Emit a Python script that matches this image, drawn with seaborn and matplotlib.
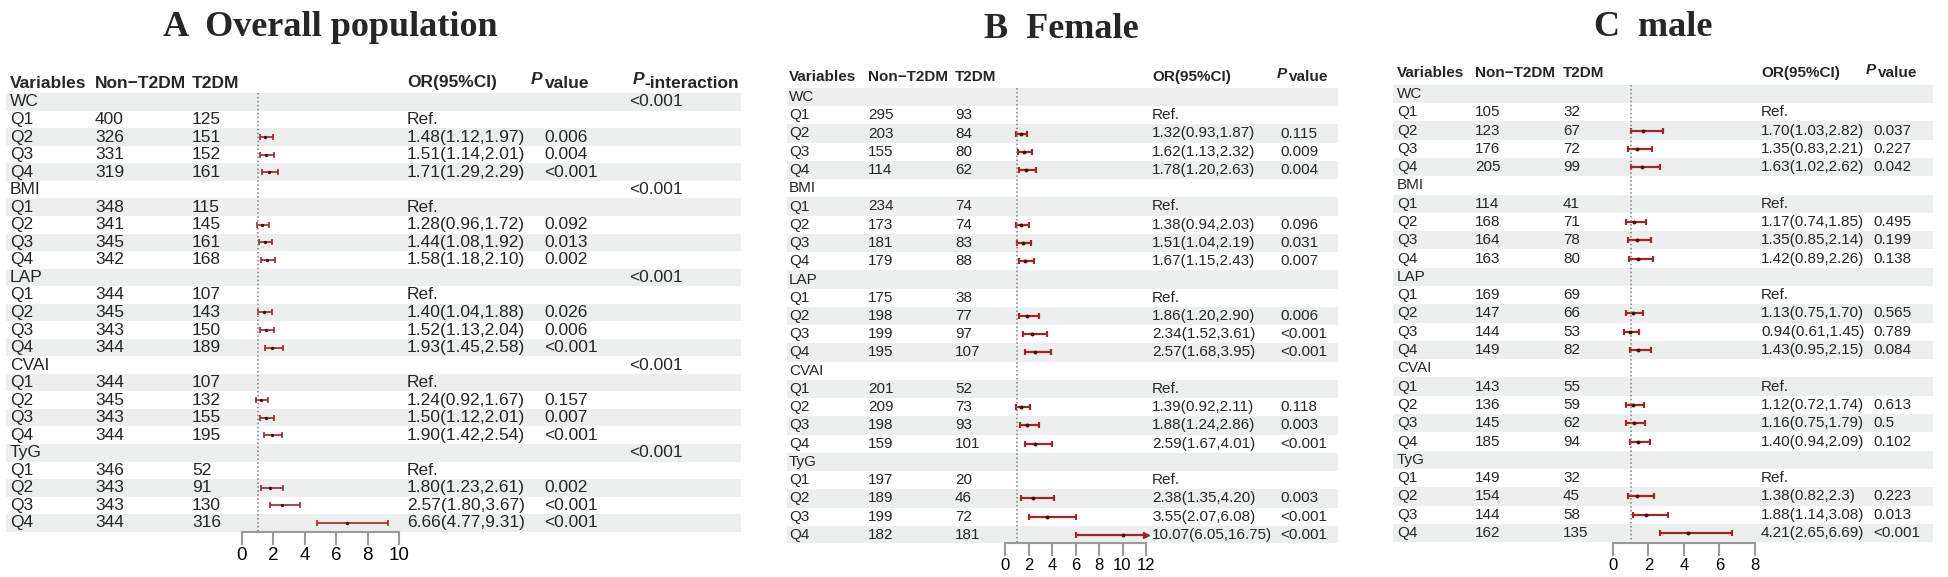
import numpy as np
import pandas as pd
import matplotlib
matplotlib.use("Agg")
import matplotlib.pyplot as plt
import seaborn as sns

# shared row labels
groups = ["WC", "BMI", "LAP", "CVAI", "TyG"]
quartiles = ["Q1", "Q2", "Q3", "Q4"]

# A  overall population
a_non = [400, 326, 331, 319, 348, 341, 345, 342, 344, 345, 343, 344,
         344, 345, 343, 344, 346, 343, 343, 344]
a_t2dm = [125, 151, 152, 161, 115, 145, 161, 168, 107, 143, 150, 189,
          107, 132, 155, 195, 52, 91, 130, 316]
a_ci = ["Ref.", "1.48(1.12,1.97)", "1.51(1.14,2.01)", "1.71(1.29,2.29)",
        "Ref.", "1.28(0.96,1.72)", "1.44(1.08,1.92)", "1.58(1.18,2.10)",
        "Ref.", "1.40(1.04,1.88)", "1.52(1.13,2.04)", "1.93(1.45,2.58)",
        "Ref.", "1.24(0.92,1.67)", "1.50(1.12,2.01)", "1.90(1.42,2.54)",
        "Ref.", "1.80(1.23,2.61)", "2.57(1.80,3.67)", "6.66(4.77,9.31)"]
a_p = ["", "0.006", "0.004", "<0.001", "", "0.092", "0.013", "0.002",
       "", "0.026", "0.006", "<0.001", "", "0.157", "0.007", "<0.001",
       "", "0.002", "<0.001", "<0.001"]
a_pint = ["<0.001", "<0.001", "<0.001", "<0.001", "<0.001"]

# B  female
b_non = [295, 203, 155, 114, 234, 173, 181, 179, 175, 198, 199, 195,
         201, 209, 198, 159, 197, 189, 199, 182]
b_t2dm = [93, 84, 80, 62, 74, 74, 83, 88, 38, 77, 97, 107,
          52, 73, 93, 101, 20, 46, 72, 181]
b_ci = ["Ref.", "1.32(0.93,1.87)", "1.62(1.13,2.32)", "1.78(1.20,2.63)",
        "Ref.", "1.38(0.94,2.03)", "1.51(1.04,2.19)", "1.67(1.15,2.43)",
        "Ref.", "1.86(1.20,2.90)", "2.34(1.52,3.61)", "2.57(1.68,3.95)",
        "Ref.", "1.39(0.92,2.11)", "1.88(1.24,2.86)", "2.59(1.67,4.01)",
        "Ref.", "2.38(1.35,4.20)", "3.55(2.07,6.08)", "10.07(6.05,16.75)"]
b_p = ["", "0.115", "0.009", "0.004", "", "0.096", "0.031", "0.007",
       "", "0.006", "<0.001", "<0.001", "", "0.118", "0.003", "<0.001",
       "", "0.003", "<0.001", "<0.001"]

# C  male
c_non = [105, 123, 176, 205, 114, 168, 164, 163, 169, 147, 144, 149,
         143, 136, 145, 185, 149, 154, 144, 162]
c_t2dm = [32, 67, 72, 99, 41, 71, 78, 80, 69, 66, 53, 82,
          55, 59, 62, 94, 32, 45, 58, 135]
c_ci = ["Ref.", "1.70(1.03,2.82)", "1.35(0.83,2.21)", "1.63(1.02,2.62)",
        "Ref.", "1.17(0.74,1.85)", "1.35(0.85,2.14)", "1.42(0.89,2.26)",
        "Ref.", "1.13(0.75,1.70)", "0.94(0.61,1.45)", "1.43(0.95,2.15)",
        "Ref.", "1.12(0.72,1.74)", "1.16(0.75,1.79)", "1.40(0.94,2.09)",
        "Ref.", "1.38(0.82,2.3)", "1.88(1.14,3.08)", "4.21(2.65,6.69)"]
c_p = ["", "0.037", "0.227", "0.042", "", "0.495", "0.199", "0.138",
       "", "0.565", "0.789", "0.084", "", "0.613", "0.5", "0.102",
       "", "0.223", "0.013", "<0.001"]

W, H = 1949, 577
STRIPE = "#EDEFEF"
RED = "#A3232B"
DARK = "#4A0C10"

sns.set_theme(style="white")
plt.rcParams["font.family"] = ["Liberation Sans", "DejaVu Sans"]


def build_table(non, t2dm, ci, pv, pint=None):
    rows = []
    for g, name in enumerate(groups):
        rows.append(dict(var=name, non="", t2dm="", ci="", p="",
                         pint=pint[g] if pint else ""))
        for q in range(4):
            k = g * 4 + q
            rows.append(dict(var=quartiles[q], non=str(non[k]), t2dm=str(t2dm[k]),
                             ci=ci[k], p=pv[k], pint=""))
    df = pd.DataFrame(rows)
    df["row"] = np.arange(len(df))
    nums = df["ci"].str.extract(r"([\d.]+)\(([\d.]+),([\d.]+)\)").astype(float)
    df["or"], df["lo"], df["hi"] = nums[0], nums[1], nums[2]
    return df


def draw_panel(fig, df, lay):
    dy, row0 = lay["dy"], lay["row0"]
    ypx = lambda px: (px - row0) / dy
    top_px = lay["header_y"] - dy
    bot_px = lay["axis_y"]
    h = bot_px - top_px
    fs, hw = lay["fs"], lay["hw"]

    tab = fig.add_axes([lay["x0"] / W, 1 - bot_px / H, (lay["x1"] - lay["x0"]) / W, h / H])
    tab.set_xlim(lay["x0"], lay["x1"])
    tab.set_ylim(ypx(bot_px), ypx(top_px))
    tab.axis("off")
    for r in df["row"][df["row"] % 2 == 0]:
        tab.axhspan(r - 0.5, r + 0.5, color=STRIPE, lw=0, zorder=0)

    yh = ypx(lay["header_y"])
    hdr = [("var", "Variables"), ("non", "Non\u2212T2DM"), ("t2dm", "T2DM"), ("ci", "OR(95%CI)")]
    for key, label in hdr:
        tab.text(lay[key], yh, label, fontsize=fs, weight=hw, va="center", ha="left")
    raise_ = 3 / dy
    tab.text(lay["p_hdr"], yh - raise_, "P", fontsize=fs, style="italic", weight=hw,
             va="center", ha="left")
    tab.text(lay["p_hdr2"], yh, "value", fontsize=fs, weight=hw, va="center", ha="left")
    if "pint" in lay:
        tab.text(lay["pint_hdr"], yh - raise_, "P", fontsize=fs, style="italic", weight=hw,
                 va="center", ha="left")
        tab.text(lay["pint_hdr2"], yh, "-interaction", fontsize=fs, weight=hw,
                 va="center", ha="left")

    for _, r in df.iterrows():
        y = r["row"]
        tab.text(lay["var"], y, r["var"], fontsize=fs, va="center", ha="left")
        tab.text(lay["non"], y, r["non"], fontsize=fs, va="center", ha="left")
        tab.text(lay["t2dm"], y, r["t2dm"], fontsize=fs, va="center", ha="left")
        tab.text(lay["ci"], y, r["ci"], fontsize=fs, va="center", ha="left")
        tab.text(lay["p"], y, r["p"], fontsize=fs, va="center", ha="left")
        if "pint" in lay:
            tab.text(lay["pint"], y, r["pint"], fontsize=fs, va="center", ha="left")

    # forest column
    fx = fig.add_axes([lay["f0"] / W, 1 - bot_px / H, (lay["f1"] - lay["f0"]) / W, h / H])
    fx.set_facecolor("none")
    d = df.dropna(subset=["or"])
    xmax = lay["xmax"]
    inside = d["hi"] <= xmax
    fx.hlines(d["row"], d["lo"], d["hi"].clip(upper=xmax), color=RED, lw=lay["lw"], zorder=2)
    sns.scatterplot(data=d, x="or", y="row", ax=fx, color=DARK, s=lay["ms"],
                    linewidth=0, zorder=3, legend=False)
    fx.plot(d["lo"], d["row"], ls="none", marker="|", ms=lay["cap"], mew=lay["lw"], color=RED)
    fx.plot(d["hi"][inside], d["row"][inside], ls="none", marker="|", ms=lay["cap"],
            mew=lay["lw"], color=RED)
    if (~inside).any():
        fx.plot(np.full((~inside).sum(), xmax), d["row"][~inside], ls="none", marker=">",
                ms=5, color=RED, clip_on=False)
    fx.vlines(1, -0.5, ypx(bot_px), colors="#7a7a7a", linestyles=(0, (1, 1.6)), lw=1.1)
    fx.set_xlim(0, xmax)
    fx.set_ylim(ypx(bot_px), ypx(top_px))
    fx.set_xticks(np.arange(0, xmax + 1, 2))
    fx.set_yticks([])
    fx.set_xlabel("")
    fx.set_ylabel("")
    for s in ["top", "right", "left"]:
        fx.spines[s].set_visible(False)
    fx.spines["bottom"].set_color("#9a9a9a")
    fx.spines["bottom"].set_linewidth(1.5)
    fx.tick_params(axis="x", bottom=True, direction="out", length=9, width=1.5,
                   color="#9a9a9a", labelsize=lay["tfs"], pad=2, labelcolor="black")

    fig.text(lay["tx"] / W, 1 - lay["ty"] / H, lay["title"], ha="center", va="center",
             fontfamily="Liberation Serif", weight="bold", fontsize=26)


fig = plt.figure(figsize=(W / 100, H / 100), dpi=100)

lay_a = dict(x0=6, x1=741, var=10, non=95, t2dm=192, ci=407, p=544, p_hdr=531, p_hdr2=545,
             pint=629, pint_hdr=633, pint_hdr2=644, f0=242, f1=399, xmax=10,
             header_y=83, row0=102, dy=17.54, axis_y=532, fs=12.5, hw="bold", tfs=13.5,
             lw=1.2, ms=6, cap=4, tx=330, ty=28, title="A  Overall population")
lay_b = dict(x0=787, x1=1338, var=789, non=868, t2dm=955, ci=1152, p=1280, p_hdr=1277,
             p_hdr2=1289, f0=1005, f1=1146, xmax=12,
             header_y=77, row0=97, dy=18.25, axis_y=543, fs=11, hw="bold", tfs=12,
             lw=1.6, ms=8, cap=5, tx=1061, ty=30, title="B  Female")
lay_c = dict(x0=1393, x1=1933, var=1397, non=1475, t2dm=1563, ci=1761, p=1873, p_hdr=1866,
             p_hdr2=1878, f0=1613, f1=1755, xmax=8,
             header_y=73, row0=94, dy=18.29, axis_y=543, fs=11, hw="bold", tfs=12,
             lw=1.6, ms=8, cap=5, tx=1653, ty=27, title="C  male")

draw_panel(fig, build_table(a_non, a_t2dm, a_ci, a_p, a_pint), lay_a)
draw_panel(fig, build_table(b_non, b_t2dm, b_ci, b_p), lay_b)
draw_panel(fig, build_table(c_non, c_t2dm, c_ci, c_p), lay_c)

fig.savefig("out.png", dpi=100)
